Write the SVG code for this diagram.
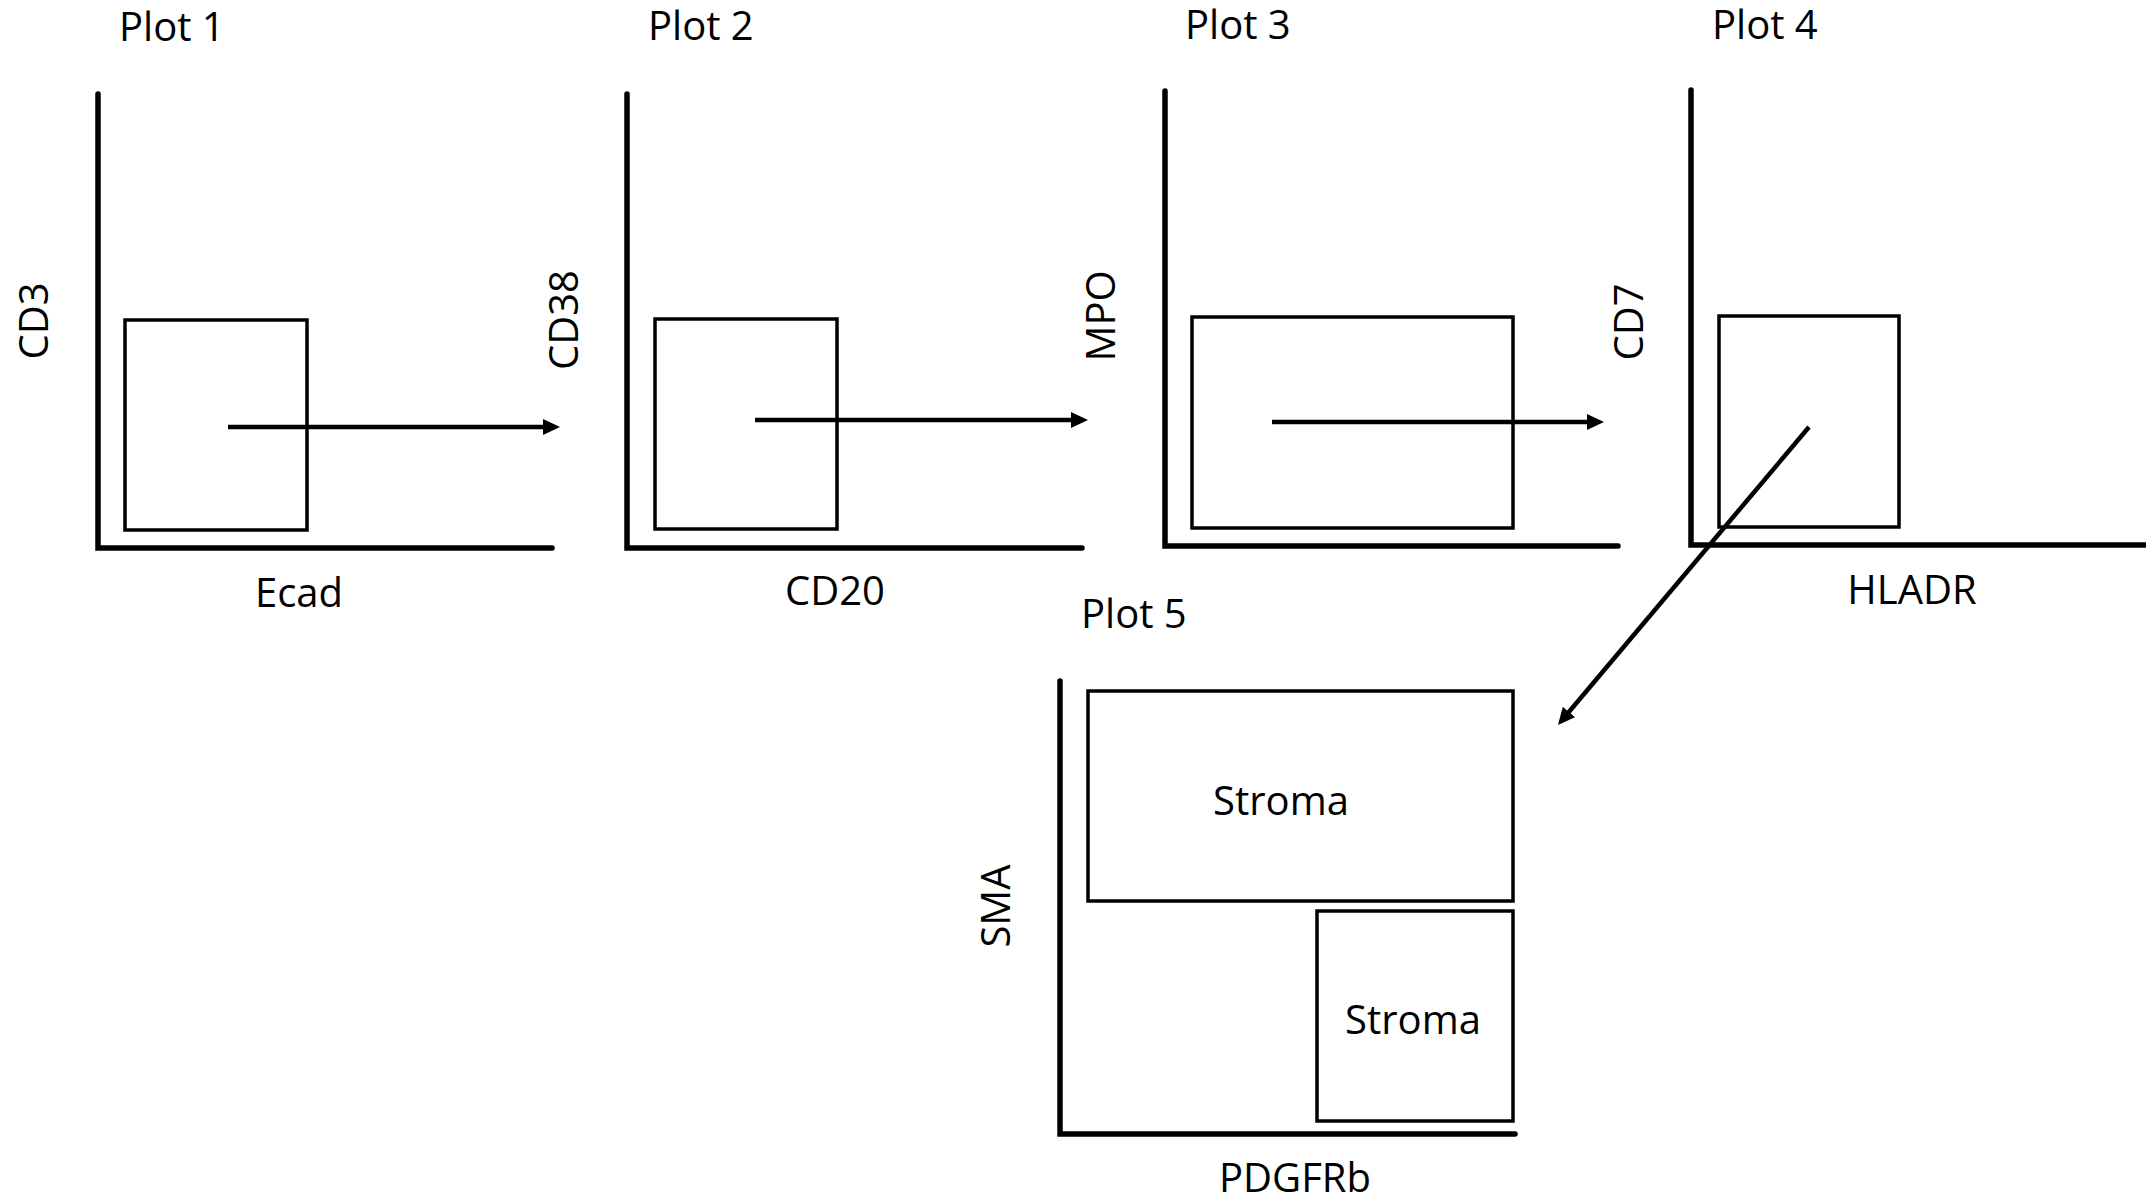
<svg xmlns="http://www.w3.org/2000/svg" width="2146" height="1204" viewBox="0 0 2146 1204">
<style>
.axis{fill:none;stroke:#000;stroke-width:5.5;stroke-linecap:round;stroke-linejoin:miter}
.gate{fill:none;stroke:#000;stroke-width:3.5}
.conn{fill:none;stroke:#000;stroke-width:4.5}
text{font-family:"Open Sans","Noto Sans","Liberation Sans",sans-serif;font-size:40px;fill:#000}
.mid{text-anchor:middle}
</style>
<defs>
<marker id="ah" viewBox="0 0 17 16" markerWidth="17" markerHeight="16" refX="5" refY="8" orient="auto" markerUnits="userSpaceOnUse">
<path d="M0,0 L17,8 L0,16 Z" fill="#000"/>
</marker>
</defs>
<rect width="2146" height="1204" fill="#fff"/>
<g id="plot1">
<text x="119" y="41">Plot 1</text>
<path class="axis" d="M98,94 L98,548 L552,548"/>
<rect class="gate" x="125" y="320" width="182" height="210"/>
<text class="mid" transform="translate(48,321) rotate(-90)">CD3</text>
<text class="mid" x="299" y="607">Ecad</text>
</g>
<g id="plot2">
<text x="648" y="40">Plot 2</text>
<path class="axis" d="M627,94 L627,548 L1082,548"/>
<rect class="gate" x="655" y="319" width="182" height="210"/>
<text class="mid" transform="translate(578,320) rotate(-90)">CD38</text>
<text class="mid" x="835" y="605">CD20</text>
</g>
<g id="plot3">
<text x="1185" y="39">Plot 3</text>
<path class="axis" d="M1165,91 L1165,546 L1618,546"/>
<rect class="gate" x="1192" y="317" width="321" height="211"/>
<text class="mid" transform="translate(1115,316) rotate(-90)">MPO</text>
</g>
<g id="plot4">
<text x="1712" y="39">Plot 4</text>
<path class="axis" d="M1691,90 L1691,545 L2150,545"/>
<rect class="gate" x="1719" y="316" width="180" height="211"/>
<text class="mid" transform="translate(1643,322) rotate(-90)">CD7</text>
<text class="mid" x="1912" y="604">HLADR</text>
</g>
<g id="plot5">
<text x="1081" y="628">Plot 5</text>
<path class="axis" d="M1060,681 L1060,1134 L1515,1134"/>
<rect class="gate" x="1088" y="691" width="425" height="210"/>
<rect class="gate" x="1317" y="911" width="196" height="210"/>
<text class="mid" x="1281" y="815">Stroma</text>
<text class="mid" x="1413" y="1034">Stroma</text>
<text class="mid" transform="translate(1010,906) rotate(-90)">SMA</text>
<text class="mid" x="1295" y="1192">PDGFRb</text>
</g>
<g id="connectors">
<line class="conn" x1="228" y1="427" x2="548" y2="427" marker-end="url(#ah)"/>
<line class="conn" x1="755" y1="420" x2="1076" y2="420" marker-end="url(#ah)"/>
<line class="conn" x1="1272" y1="422" x2="1592" y2="422" marker-end="url(#ah)"/>
<line class="conn" x1="1809" y1="427" x2="1565.7" y2="715.8" marker-end="url(#ah)"/>
</g>
</svg>
